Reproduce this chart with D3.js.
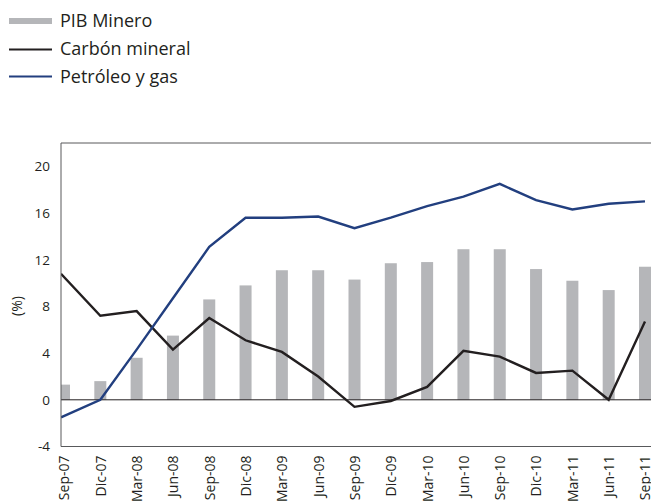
<!DOCTYPE html>
<html>
<head>
	<meta charset="utf-8">
	<title></title>
	<script src="https://d3js.org/d3.v7.min.js"></script>
	<style>
		body { margin: 0; background: #fff; }
		text { font-family: "Open Sans", sans-serif; fill: #231f20; }
	</style>
</head>
<body>

<script>

var width = 651
var height = 501

// quarterly categories
var periods = ['Sep-07', 'Dic-07', 'Mar-08', 'Jun-08', 'Sep-08', 'Dic-08', 'Mar-09', 'Jun-09', 'Sep-09',
	'Dic-09', 'Mar-10', 'Jun-10', 'Sep-10', 'Dic-10', 'Mar-11', 'Jun-11', 'Sep-11']

var pibMinero = [1.3, 1.6, 3.6, 5.5, 8.6, 9.8, 11.1, 11.1, 10.3, 11.7, 11.8, 12.9, 12.9, 11.2, 10.2, 9.4, 11.4]
var carbon = [10.8, 7.2, 7.6, 4.3, 7.0, 5.1, 4.1, 2.0, -0.6, -0.1, 1.1, 4.2, 3.7, 2.3, 2.5, 0.0, 6.7]
var petroleo = [-1.5, 0.0, 4.3, 8.7, 13.1, 15.6, 15.6, 15.7, 14.7, 15.6, 16.6, 17.4, 18.5, 17.1, 16.3, 16.8, 17.0]

var yTicks = [-4, 0, 4, 8, 12, 16, 20]

var legendNames = ['PIB Minero', 'Carbón mineral', 'Petróleo y gas']

var grey = '#b5b6b9'
var black = '#231f20'
var blue = '#223f7f'

var plot = {left: 61, top: 143, bottom: 446.5, right: 651}

var svg = d3.select('body').append('svg')
	.attr('width', width)
	.attr('height', height)

var x = d3.scalePoint()
	.domain(periods)
	.range([64, 645])

var y = d3.scaleLinear()
	.domain([-4, 22])
	.range([plot.bottom, plot.top])

svg.append('defs').append('clipPath')
	.attr('id', 'clip')
	.append('rect')
	.attr('x', plot.left)
	.attr('y', plot.top)
	.attr('width', plot.right - plot.left)
	.attr('height', plot.bottom - plot.top)

var chart = svg.append('g').attr('clip-path', 'url(#clip)')

// bars
chart.selectAll('rect.bar')
	.data(pibMinero)
	.enter().append('rect')
	.attr('class', 'bar')
	.attr('x', function(d, i) { return x(periods[i]) - 6 })
	.attr('width', 12)
	.attr('y', function(d) { return y(Math.max(0, d)) })
	.attr('height', function(d) { return Math.abs(y(d) - y(0)) })
	.style('fill', grey)

// zero line
chart.append('line')
	.attr('x1', plot.left).attr('x2', plot.right)
	.attr('y1', y(0)).attr('y2', y(0))
	.style('stroke', black)
	.style('stroke-width', 1)

var line = d3.line()
	.x(function(d, i) { return i == 0 ? plot.left : x(periods[i]) })
	.y(function(d) { return y(d) })

chart.append('path')
	.datum(carbon)
	.attr('d', line)
	.style('fill', 'none')
	.style('stroke', black)
	.style('stroke-width', 2.4)

chart.append('path')
	.datum(petroleo)
	.attr('d', line)
	.style('fill', 'none')
	.style('stroke', blue)
	.style('stroke-width', 2.4)

// frame: left, top, bottom
var frame = svg.append('g')
	.style('stroke', '#58595b')
	.style('stroke-width', 1)
frame.append('line').attr('x1', plot.left).attr('x2', plot.left).attr('y1', plot.top).attr('y2', plot.bottom)
frame.append('line').attr('x1', plot.left).attr('x2', plot.right).attr('y1', plot.top).attr('y2', plot.top)
frame.append('line').attr('x1', plot.left).attr('x2', plot.right).attr('y1', plot.bottom).attr('y2', plot.bottom)

// y axis labels
var yAxis = d3.axisLeft(y).tickValues(yTicks).tickSize(0).tickPadding(11)
	.tickFormat(function(d) { return String(d) })
var yg = svg.append('g')
	.attr('transform', 'translate(' + plot.left + ',0)')
	.call(yAxis)
yg.select('.domain').remove()
yg.selectAll('text')
	.style('font-size', '13.5px')
	.style('font-family', '"Open Sans", sans-serif')
	.attr('fill', black)

// x axis labels (rotated)
var xAxis = d3.axisBottom(x).tickSize(0).tickPadding(0)
var xg = svg.append('g')
	.attr('transform', 'translate(0,' + plot.bottom + ')')
	.call(xAxis)
xg.select('.domain').remove()
xg.selectAll('text')
	.attr('transform', 'rotate(-90)')
	.attr('x', -9)
	.attr('y', 0)
	.attr('dy', '0.35em')
	.style('text-anchor', 'end')
	.style('font-size', '14px')
	.style('font-family', '"Open Sans", sans-serif')
	.attr('fill', black)

svg.append('text')
	.attr('transform', 'translate(17,306) rotate(-90)')
	.attr('dy', '0.35em')
	.style('text-anchor', 'middle')
	.style('font-size', '14px')
	.text('(%)')

// legend
var legend = svg.append('g')
legend.append('rect')
	.attr('x', 9).attr('y', 18).attr('width', 43).attr('height', 6)
	.style('fill', grey)
legend.append('line')
	.attr('x1', 9).attr('x2', 52).attr('y1', 49.5).attr('y2', 49.5)
	.style('stroke', black).style('stroke-width', 2)
legend.append('line')
	.attr('x1', 9).attr('x2', 52).attr('y1', 76.5).attr('y2', 76.5)
	.style('stroke', blue).style('stroke-width', 2)

legend.selectAll('text.leg')
	.data(legendNames)
	.enter().append('text')
	.attr('class', 'leg')
	.attr('x', 60)
	.attr('y', function(d, i) { return 26.5 + i * 28 })
	.style('font-size', '18px')
	.text(function(d) { return d })

</script>

</body>
</html>
